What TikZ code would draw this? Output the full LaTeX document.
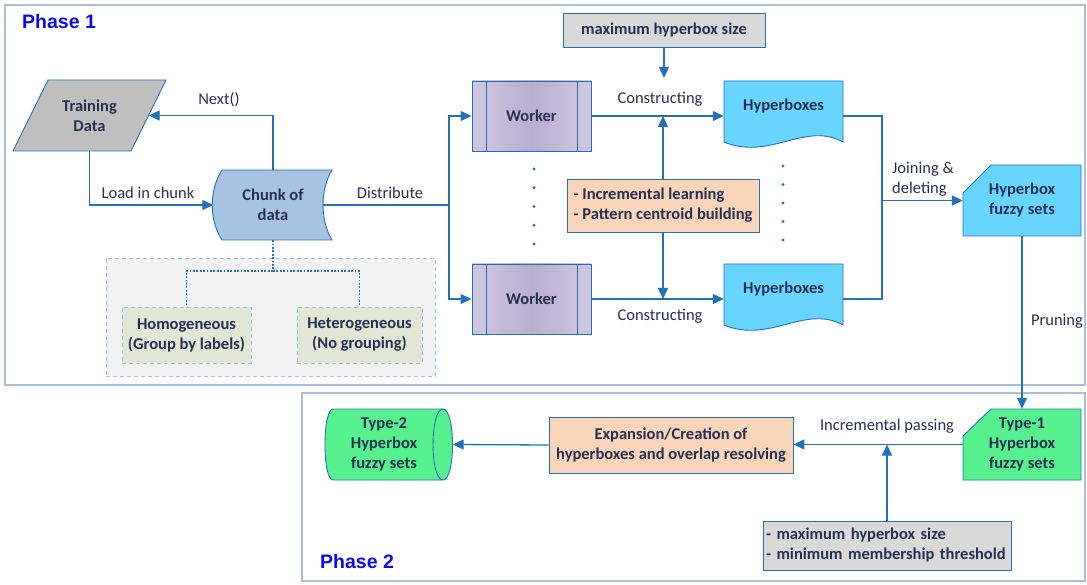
\documentclass[tikz,border=0pt]{standalone}
\usepackage{fontspec}
\setmainfont{Carlito}
\newfontfamily\phasefont{Liberation Sans}
\usetikzlibrary{arrows.meta,calc}
\definecolor{ln}{RGB}{36,113,187}
\definecolor{txt}{RGB}{38,48,82}
\definecolor{frm}{RGB}{167,191,221}
\definecolor{gry}{RGB}{191,191,191}
\definecolor{lgry}{RGB}{217,217,217}
\definecolor{chk}{RGB}{166,196,226}
\definecolor{cyanb}{RGB}{104,213,255}
\definecolor{grn}{RGB}{86,240,143}
\definecolor{pch}{RGB}{248,213,184}
\definecolor{wka}{RGB}{208,200,224}
\definecolor{wkb}{RGB}{186,174,206}
\definecolor{grpf}{RGB}{242,242,242}
\definecolor{grpl}{RGB}{157,195,230}
\definecolor{olv}{RGB}{226,231,213}
\definecolor{phs}{RGB}{10,10,240}
\begin{document}
\begin{tikzpicture}[x=1pt,y=-1pt,
  conn/.style={draw=ln, line width=1.3pt, -{Triangle[length=11pt,width=10pt]}},
  plain/.style={draw=ln, line width=1.3pt},
  dotline/.style={draw=ln, line width=1.4pt, dash pattern=on 1.8pt off 1.6pt},
  lbl/.style={text=txt, inner sep=0pt, font=\fontsize{16.5}{20}\selectfont},
  box/.style={draw=ln, line width=0.9pt, text=txt, align=center, inner sep=0pt,
    font=\fontsize{16.5}{20}\selectfont\bfseries},
  ghost/.style={text=txt, align=center, inner sep=0pt,
    font=\fontsize{16.5}{20}\selectfont\bfseries},
  shp/.style={draw=ln, line width=0.9pt},
  dsh/.style={dash pattern=on 4pt off 3pt},
  phase/.style={text=phs, inner sep=0pt, font=\phasefont\fontsize{19.5}{22}\selectfont\bfseries},
  dotc/.style={fill=ln, draw=none}
]
\path[use as bounding box] (0,0) rectangle (1087,585);
% frames
\draw[frm, line width=1.2pt] (5,5) rectangle (1085,385);
\draw[frm, line width=1.2pt] (302,393) rectangle (1085,581);
\node[phase, anchor=west] (p1) at (22,22) {Phase 1};
\node[phase, anchor=west] (p2) at (320,562) {Phase 2};

% Training data
\fill[gry] (48,80) -- (166,80) -- (131,151) -- (13,151) -- cycle;
\draw[shp] (48,80) -- (166,80) -- (131,151) -- (13,151) -- cycle;
\node[ghost, minimum width=118, minimum height=71] (td) at (89.5,115.5) {Training\\Data};

% Chunk of data
\path[shp, fill=chk] (222,170) -- (332,170) .. controls (320,190) and (320,220) .. (332,240)
  -- (222,240) .. controls (209,220) and (209,190) .. (222,170) -- cycle;
\node[ghost, minimum width=119, minimum height=70] (ch) at (273,205) {Chunk of\\data};

% group box
\node[draw=grpl, fill=grpf, line width=0.9pt, dsh, minimum width=329, minimum height=118, inner sep=0pt] (grp) at (270.5,317) {};
\node[box, draw=grpl, dsh, fill=olv, minimum width=129, minimum height=56] (hom) at (186.5,335) {Homogeneous\\(Group by labels)};
\node[box, draw=grpl, dsh, fill=olv, minimum width=125, minimum height=56] (het) at (359.5,335) {Heterogeneous\\(No grouping)};
\coordinate (g) at (273,271);
\draw[dotline] (ch.south) -- (g);
\draw[dotline] (g) -| (hom.north);
\draw[dotline] (g) -| (het.north);

% connectors left
\draw[conn] (ch.north) |- (td.east);
\node[lbl] (lnext) at (219,100) {Next()};
\draw[conn] (td.south) |- (ch.west);
\node[lbl] (lload) at (148,193) {Load in chunk};

% workers
\node[box, minimum width=119, minimum height=70, left color=wka, right color=wka, middle color=wkb] (w1) at (531.5,116) {Worker};
\node[box, minimum width=119, minimum height=70, left color=wka, right color=wka, middle color=wkb] (w2) at (531.5,299) {Worker};
\foreach \w in {w1,w2}{
  \draw[ln, line width=0.9pt] ($(\w.north west)+(15,0)$) -- ($(\w.south west)+(15,0)$);
  \draw[ln, line width=0.9pt] ($(\w.north east)+(-14,0)$) -- ($(\w.south east)+(-14,0)$);
}
\coordinate (d) at (449,205);
\draw[plain] ($(ch.east)+(-10,0)$) -- (d);
\draw[conn] (d) |- (w1.west);
\draw[conn] (d) |- (w2.west);
\node[lbl] (ldist) at (390,193) {Distribute};
\foreach \yy in {169,187.75,206.5,225.25,244} \fill[dotc] (534,\yy) circle (1.6);

% max hyperbox size
\node[box, fill=lgry, minimum width=202, minimum height=34] (mhs) at (664,30) {maximum hyperbox size};
\coordinate (mt) at (664,78);
\draw[conn] (mhs.south) -- (mt);

% central box
\node[box, fill=pch, minimum width=192, minimum height=53, align=left] (il) at (663,205.5) {- Incremental learning\\- Pattern centroid building};

% hyperboxes
\foreach \yt/\nm in {81/hb1,264/hb2}{
  \path[shp, fill=cyanb] (724,\yt) -- (843,\yt) -- (843,\yt+61)
    .. controls (805,\yt+40) and (770,\yt+80) .. (724,\yt+61) -- cycle;
  \node[ghost, minimum width=119, minimum height=50] (\nm) at (783.5,\yt+25) {Hyperboxes};
}
\draw[conn] (w1.east) -- (w1.east -| hb1.west);
\draw[conn] (w2.east) -- (w2.east -| hb2.west);
\node[lbl] (lc1) at (660,99) {Constructing};
\node[lbl] (lc2) at (660,316) {Constructing};
\draw[conn] (il.north) -- (il.north |- w1.east);
\draw[conn] (il.south) -- (il.south |- w2.east);
\foreach \yy in {166,184.5,203,221.5,240} \fill[dotc] (783,\yy) circle (1.6);

% hyperbox fuzzy sets
\path[shp, fill=cyanb] (963,193) -- (991,165) -- (1081,165) -- (1081,236) -- (963,236) -- cycle;
\node[ghost, minimum width=118, minimum height=71] (hf) at (1022,200.5) {Hyperbox\\fuzzy sets};
\coordinate (j) at (882,200.5);
\draw[plain] (w1.east -| hb1.east) -| (j);
\draw[plain] (w2.east -| hb2.east) -| (j);
\draw[conn] (j) -- (hf.west);
\node[lbl, anchor=west, align=left] (ljoin) at (892,179) {Joining \&\\deleting};

% phase 2
\path[shp, fill=grn] (963,436) -- (991,409) -- (1081,409) -- (1081,480) -- (963,480) -- cycle;
\node[ghost, minimum width=118, minimum height=71] (t1) at (1022,444.5) {Type-1\\Hyperbox\\fuzzy sets};
\draw[conn] (hf.south) -- (t1.north);
\node[lbl] (lprune) at (1057,321) {Pruning};

\node[box, fill=pch, minimum width=244, minimum height=56] (exp) at (671,445) {Expansion/Creation of\\hyperboxes and overlap resolving};
\draw[conn] (t1.west) -- (t1.west -| exp.east);
\node[lbl] (linc) at (887,426) {Incremental passing};

\node[box, fill=lgry, minimum width=248, minimum height=49, align=left, text width=242] (pb) at (887,545.5) {- maximum hyperbox size\\- minimum membership threshold};
\draw[conn] (pb.north) -- (pb.north |- t1.west);

% type-2
\path[shp, fill=grn] (333,409) -- (443,409) .. controls (455.7,409) and (455.7,480) .. (443,480)
  -- (333,480) .. controls (322.3,480) and (322.3,409) .. (333,409) -- cycle;
\draw[ln, line width=0.9pt] (443,409) .. controls (429.7,409) and (429.7,480) .. (443,480);
\node[ghost, minimum width=118, minimum height=71] (t2) at (384,444.5) {Type-2\\Hyperbox\\fuzzy sets};
\draw[conn] (exp.west) -- ($(t2.east)+(9.5,0)$);
\end{tikzpicture}
\end{document}
